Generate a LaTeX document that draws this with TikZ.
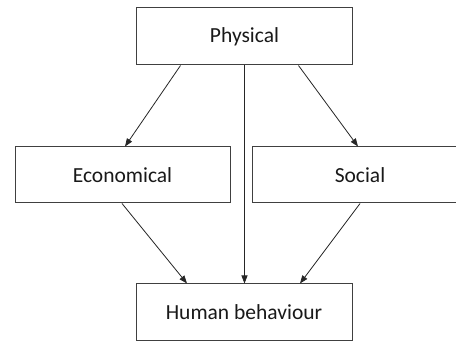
\documentclass[tikz,border=0pt]{standalone}
\usepackage{fontspec}
\setmainfont{Carlito}
\usetikzlibrary{arrows.meta}
\begin{document}
\begin{tikzpicture}[x=1pt,y=-1pt,
  box/.style={draw=black!75,line width=1pt,minimum width=216pt,minimum height=56pt,
    inner sep=0pt,font=\fontsize{21.5pt}{24pt}\selectfont,text=black!90},
  link/.style={draw=black!85,line width=0.8pt,-{Triangle[length=8pt,width=6pt]}}]
  \useasboundingbox (0,0) rectangle (456,342);
  \clip (0,0) rectangle (456,342);
  \fill[white] (0,0) rectangle (456,342);
  % four factor boxes
  \node[box,minimum height=57pt] (phys) at (244.5,36.5) {Physical};
  \node[box,minimum width=215pt] (eco) at (122.5,175) {Economical};
  \node[box] (soc) at (360,175) {Social};
  \node[box,minimum height=57pt] (hum) at (244,312.5) {Human behaviour};
  % influences
  \draw[link] ([xshift=-64pt]phys.south) -- ([xshift=2.5pt]eco.north);
  \draw[link] ([xshift=54pt]phys.south) -- ([xshift=-2pt]soc.north);
  \draw[link] (phys.south) -- (phys.south |- hum.north);
  \draw[link] ([xshift=-0.5pt]eco.south) -- ([xshift=-57pt]hum.north);
  \draw[link] (soc.south) -- ([xshift=56pt]hum.north);
\end{tikzpicture}
\end{document}
